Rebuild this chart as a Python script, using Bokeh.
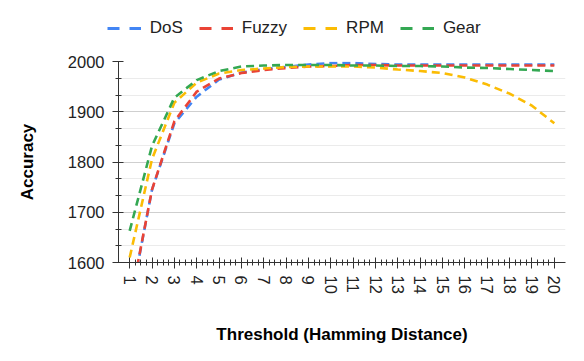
from bokeh.plotting import figure
from bokeh.layouts import column
from bokeh.models import Legend, LegendItem, FixedTicker, SingleIntervalTicker, Range1d
from bokeh.embed import file_html
from bokeh.resources import INLINE

thresholds = list(range(1, 21))
dos = [1512, 1745, 1877, 1930, 1964, 1978, 1985, 1989, 1994, 1997, 1997, 1995, 1994, 1994, 1994, 1994, 1994, 1994, 1994, 1994]
fuzzy = [1515, 1745, 1881, 1940, 1966, 1977, 1983, 1987, 1990, 1991, 1993, 1993, 1992, 1992, 1992, 1992, 1992, 1992, 1992, 1992]
rpm = [1610, 1806, 1918, 1958, 1976, 1983, 1986, 1989, 1990, 1990, 1990, 1988, 1984, 1981, 1977, 1968, 1954, 1936, 1912, 1877]
gear = [1663, 1832, 1928, 1963, 1981, 1990, 1992, 1993, 1993, 1993, 1992, 1992, 1991, 1991, 1990, 1988, 1987, 1985, 1983, 1981]

series_names = ["DoS", "Fuzzy", "RPM", "Gear"]
series_values = [dos, fuzzy, rpm, gear]
colors = ["#4285F4", "#EA4335", "#FBBC04", "#34A853"]

FONT = "Liberation Sans"

# legend strip above the chart
lg = figure(width=584, height=45, output_backend="svg", toolbar_location=None,
            x_range=Range1d(0, 1), y_range=Range1d(0, 1),
            x_axis_type=None, y_axis_type=None,
            min_border_left=0, min_border_right=0, min_border_top=0, min_border_bottom=0)
lg.outline_line_color = None
lg.xgrid.grid_line_color = None
lg.ygrid.grid_line_color = None
lg.frame_align = False

p = figure(width=584, height=316, output_backend="svg", toolbar_location=None,
           x_range=Range1d(0.5, 20.5), y_range=Range1d(1600, 2000),
           min_border_left=118, min_border_right=19, min_border_top=16, min_border_bottom=99)
p.outline_line_color = None
p.frame_align = False

p.xgrid.grid_line_color = None
yt = SingleIntervalTicker(interval=100, num_minor_ticks=3)
p.yaxis.ticker = yt
p.ygrid.ticker = yt
p.ygrid.grid_line_color = "#cfcfcf"
p.ygrid.grid_line_width = 1
p.ygrid.minor_grid_line_color = "#ebebeb"
p.ygrid.minor_grid_line_width = 1

minor = [t + f for t in thresholds[:-1] for f in (0.25, 0.5, 0.75)]
p.xaxis.ticker = FixedTicker(ticks=thresholds, minor_ticks=minor)

for ax in (p.xaxis[0], p.yaxis[0]):
    ax.axis_line_color = "#333333"
    ax.major_tick_line_color = "#333333"
    ax.minor_tick_line_color = "#333333"
    ax.major_tick_in = 5
    ax.major_tick_out = 6
    ax.minor_tick_in = 3
    ax.minor_tick_out = 3
    ax.major_label_text_font = FONT
    ax.major_label_text_font_size = "16.5px"
    ax.major_label_text_color = "#222222"
    ax.axis_label_text_font = FONT
    ax.axis_label_text_font_size = "17px"
    ax.axis_label_text_font_style = "bold"
    ax.axis_label_text_color = "#000000"

p.xaxis.major_label_orientation = "vertical"
p.xaxis.major_label_standoff = 7
p.xaxis.axis_label = "Threshold (Hamming Distance)"
p.xaxis.axis_label_standoff = 28
p.yaxis.major_label_standoff = 8
p.yaxis.axis_label = "Accuracy"
p.yaxis.axis_label_standoff = 28

items = []
for name, vals, c in zip(series_names, series_values, colors):
    p.line(thresholds, vals, line_color=c, line_width=2.6, line_dash="8 5")
    # legend-only renderer: its points lie outside the legend strip's ranges
    dummy = lg.line(x=[-10, -9], y=[-10, -10], line_color=c, line_width=3, line_dash="12 10")
    items.append(LegendItem(label=name, renderers=[dummy]))

legend = Legend(items=items, orientation="horizontal", location=(106.7, 7),
                padding=0, margin=0, spacing=16, label_standoff=9,
                glyph_width=34, glyph_height=20,
                border_line_color=None, background_fill_alpha=0,
                label_text_font=FONT, label_text_font_size="17px",
                label_text_color="#222222")
lg.add_layout(legend)

layout = column(lg, p, spacing=0)
open("out.html", "w").write(file_html(layout, INLINE))
